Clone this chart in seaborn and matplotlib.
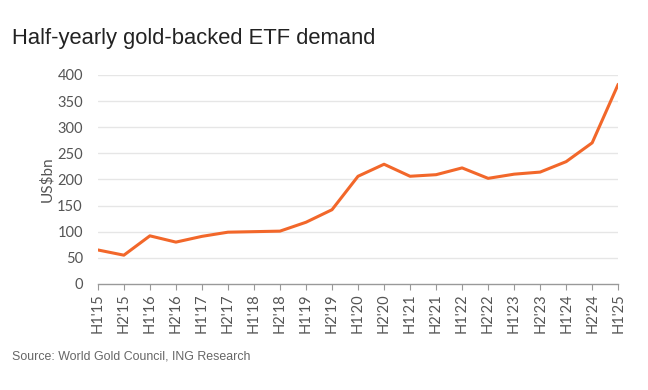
import pandas as pd
import matplotlib.pyplot as plt
import seaborn as sns

# Half-yearly gold-backed ETF demand (US$bn)
periods = ["H1'15", "H2'15", "H1'16", "H2'16", "H1'17", "H2'17", "H1'18",
           "H2'18", "H1'19", "H2'19", "H1'20", "H2'20", "H1'21", "H2'21",
           "H1'22", "H2'22", "H1'23", "H2'23", "H1'24", "H2'24", "H1'25"]
demand = [65, 55, 92, 80, 91, 99, 100, 101, 118, 142, 206, 229, 206, 209,
          222, 202, 210, 214, 234, 270, 382]
yticks = [0, 50, 100, 150, 200, 250, 300, 350, 400]

df = pd.DataFrame({"period": periods, "demand": demand})
df["pos"] = range(len(df))

sns.set_style("white")
plt.rcParams['font.family'] = ['Lato', 'DejaVu Sans']

fig = plt.figure(figsize=(6.48, 3.9), dpi=100)
ax = fig.add_axes([0.151, 0.272, 0.803, 0.536])

# light horizontal gridlines
for y in yticks[1:]:
    ax.axhline(y, color="#e6e6e6", lw=1.0, zorder=0)

sns.lineplot(x="pos", y="demand", data=df, ax=ax, color="#f2672a", lw=2.2)

ax.set_xlim(0, len(periods) - 1)
ax.set_ylim(0, 400)
ax.set_yticks(yticks)
ax.set_xticks(df["pos"])
ax.set_xticklabels(periods, rotation=90, fontsize=10.5, color="#555555")
ax.tick_params(axis="y", labelsize=10.5, labelcolor="#555555", length=0, pad=10.8)
ax.tick_params(axis="x", length=4, color="#999999", direction="out", pad=3,
               bottom=True)
ax.set_xlabel("")
ax.set_ylabel("US$bn", fontsize=11, color="#555555", labelpad=2)

for side in ["left", "right", "top"]:
    ax.spines[side].set_visible(False)
ax.spines["bottom"].set_color("#999999")
ax.spines["bottom"].set_linewidth(1.0)

fig.text(0.018, 0.888, "Half-yearly gold-backed ETF demand", fontsize=15.8,
         color="#222222", family="Liberation Sans")
fig.text(0.018, 0.078, "Source: World Gold Council, ING Research", fontsize=8.95,
         color="#666666", family="Liberation Sans")

fig.savefig("out.png", dpi=100)
